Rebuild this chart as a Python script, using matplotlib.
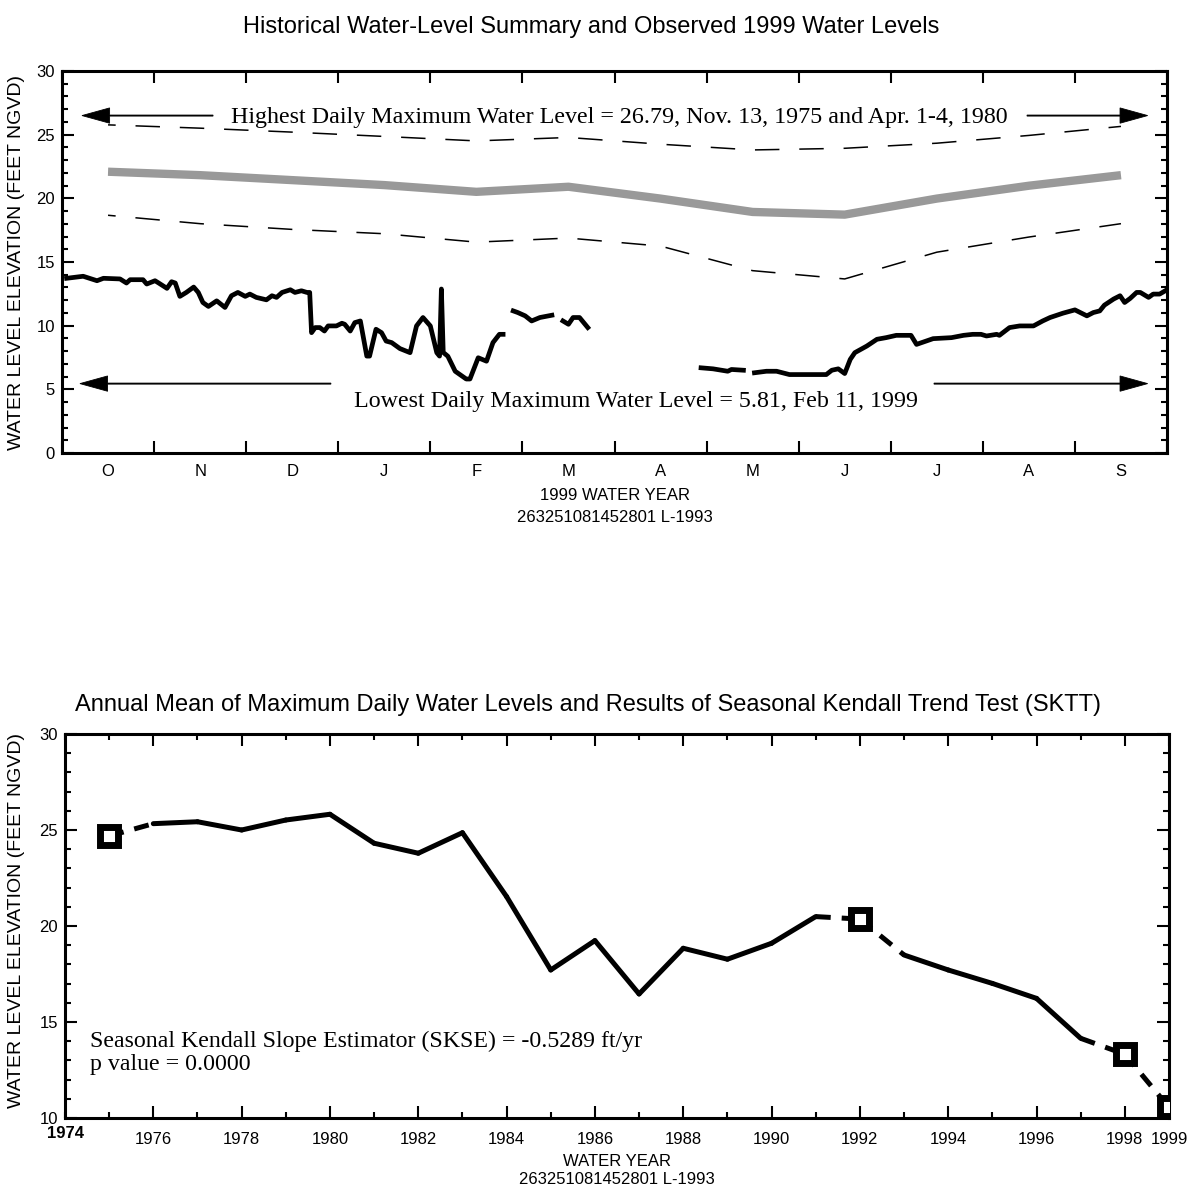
import numpy as np
import matplotlib
matplotlib.use("Agg")
import matplotlib.pyplot as plt
from matplotlib.ticker import MultipleLocator

W, H = 1192, 1191
SANS = "Liberation Sans"
SERIF = "Liberation Serif"
plt.rcParams['font.family'] = [SANS, 'DejaVu Sans']

# --- top chart: 1999 water year, x in months since Oct 1 ---
month_letters = ["O", "N", "D", "J", "F", "M", "A", "M", "J", "J", "A", "S"]
month_mid = np.arange(12) + 0.5
median_level = [22.09, 21.82, 21.43, 21.04, 20.51, 20.91, 19.98, 18.93, 18.72, 19.98, 20.99, 21.82]
upper_level = [25.77, 25.51, 25.20, 24.86, 24.51, 24.78, 24.25, 23.80, 23.93, 24.33, 24.94, 25.65]
lower_level = [18.67, 18.01, 17.56, 17.22, 16.56, 16.88, 16.25, 14.32, 13.67, 15.77, 16.96, 18.01]

# observed daily maximum, nan = missing record
day_month = [0.05, 0.23, 0.38, 0.45, 0.63, 0.70, 0.74, 0.88, 0.92, 1.01, 1.05, 1.14, 1.19, 1.23,
             1.28, 1.35, 1.43, 1.48, 1.53, 1.59, 1.68, 1.77, 1.84, 1.91, 1.99, 2.04, 2.11, 2.22,
             2.28, 2.33, 2.39, 2.48, 2.53, 2.60, 2.66, 2.69, 2.71, 2.75, 2.80, 2.85, 2.89, 2.98,
             3.04, 3.07, 3.13, 3.18, 3.24, 3.31, 3.34, 3.41, 3.47, 3.52, 3.58, 3.67, 3.78, 3.85,
             3.92, 4.00, 4.07, 4.10, 4.12, 4.14, 4.19, 4.27, 4.39, 4.43, 4.52, 4.61, 4.68, 4.75,
             4.79, 4.84,
             4.90, 4.95, 5.03, 5.10, 5.19, 5.32, 5.38,
             5.44, 5.50, 5.55, 5.62, 5.71, 6.3,
             6.94, 7.07, 7.23, 7.27, 7.40, 7.46,
             7.52, 7.65, 7.76, 7.90, 8.01, 8.30, 8.36, 8.43, 8.50, 8.56, 8.61, 8.74, 8.85, 8.95,
             9.06, 9.22, 9.28, 9.46, 9.66, 9.79, 9.89, 9.98, 10.04, 10.15, 10.18, 10.29, 10.40,
             10.55, 10.65, 10.73, 10.87, 11.00, 11.13, 11.20, 11.27, 11.32, 11.42, 11.49, 11.54,
             11.60, 11.67, 11.71, 11.80, 11.85, 11.92, 12.00]
day_level = [13.72, 13.88, 13.53, 13.72, 13.67, 13.35, 13.61, 13.61, 13.27, 13.53, 13.35, 12.93, 13.45, 13.35,
             12.30, 12.61, 13.03, 12.61, 11.82, 11.51, 11.95, 11.43, 12.35, 12.61, 12.30, 12.48, 12.22, 12.03,
             12.35, 12.22, 12.61, 12.82, 12.61, 12.74, 12.61, 12.61, 9.45, 9.85, 9.85, 9.58, 9.98, 9.98,
             10.19, 10.11, 9.58, 10.24, 10.37, 7.61, 7.61, 9.72, 9.45, 8.79, 8.67, 8.20, 7.88, 9.98,
             10.64, 9.98, 7.88, 7.61, 12.88, 7.90, 7.60, 6.42, 5.81, 5.81, 7.48, 7.21, 8.67, 9.32,
             9.32, np.nan,
             11.16, 11.03, 10.77, 10.37, 10.64, 10.82, np.nan,
             10.37, 10.11, 10.64, 10.64, 9.85, np.nan,
             6.69, 6.61, 6.42, 6.56, 6.50, np.nan,
             6.30, 6.42, 6.42, 6.16, 6.16, 6.16, 6.50, 6.61, 6.24, 7.35, 7.88, 8.40, 8.93, 9.06,
             9.24, 9.24, 8.53, 8.98, 9.06, 9.24, 9.32, 9.32, 9.19, 9.32, 9.24, 9.85, 9.98,
             9.98, 10.37, 10.64, 10.98, 11.24, 10.77, 11.03, 11.16, 11.61, 12.09, 12.35, 11.82,
             12.14, 12.61, 12.61, 12.22, 12.48, 12.48, 12.82]

highest_text = "Highest Daily Maximum Water Level = 26.79, Nov. 13, 1975 and Apr. 1-4, 1980"
lowest_text = "Lowest Daily Maximum Water Level = 5.81, Feb 11, 1999"
site_text = "263251081452801 L-1993"

# --- bottom chart: annual means ---
years = np.arange(1975, 2000)
annual_mean = [24.69, 25.33, 25.43, 25.00, 25.52, 25.82, 24.31, 23.79, 24.86, 21.53, 17.71, 19.24,
               16.46, 18.84, 18.27, 19.10, 20.49, 20.36, 18.49, 17.71, 17.01, 16.23, 14.15, 13.32, 10.55]
partial_years = [1975, 1992, 1998, 1999]
year_ticks = list(range(1976, 1999, 2)) + [1999]


def px_axes(fig, left, top, right, bottom):
    return fig.add_axes([left / W, 1 - bottom / H, (right - left) / W, (bottom - top) / H])


def style_axes(ax):
    for s in ax.spines.values():
        s.set_linewidth(2.2)
    ax.tick_params(which='both', direction='in', width=1.5, top=True, right=True, labelsize=12)
    ax.tick_params(which='major', length=8.5)
    ax.tick_params(which='minor', length=4.5)
    ax.tick_params(axis='y', pad=5)


fig = plt.figure(figsize=(W / 100, H / 100), dpi=100)

# top chart
ax1 = px_axes(fig, 62, 71, 1167, 453)
ax1.plot(month_mid, upper_level, color='k', lw=1.1, linestyle=(11, (16, 13)))
ax1.plot(month_mid, lower_level, color='k', lw=1.1, linestyle=(11, (16, 13)))
ax1.plot(month_mid, median_level, color='#999999', lw=6, solid_capstyle='butt')
ax1.plot(day_month, day_level, color='k', lw=3.4)
ax1.set_xlim(0, 12)
ax1.set_ylim(0, 30)
ax1.set_xticks(range(13))
ax1.set_xticklabels([])
ax1.set_xticks(month_mid, minor=True)
ax1.set_xticklabels(month_letters, minor=True)
ax1.set_yticks(range(0, 31, 5))
ax1.yaxis.set_minor_locator(MultipleLocator(1))
style_axes(ax1)
ax1.tick_params(axis='x', which='minor', length=0, pad=8)

arrow_kw = dict(width=0.08, head_width=1.2, head_length=0.30, length_includes_head=True,
                fc='k', ec='k', lw=0.6)
ax1.arrow(1.64, 26.5, 0.217 - 1.64, 0, **arrow_kw)
ax1.arrow(10.48, 26.5, 11.79 - 10.48, 0, **arrow_kw)
ax1.arrow(2.92, 5.45, 0.195 - 2.92, 0, **arrow_kw)
ax1.arrow(9.47, 5.45, 11.79 - 9.47, 0, **arrow_kw)
ax1.text(6.05, 25.92, highest_text, ha='center', va='baseline', family=SERIF, fontsize=17.3)
ax1.text(6.23, 3.64, lowest_text, ha='center', va='baseline', family=SERIF, fontsize=17.3)

fig.text(591 / W, 1 - 27 / H, "Historical Water-Level Summary and Observed 1999 Water Levels",
         ha='center', va='center', fontsize=17)
fig.text(615 / W, 1 - 496 / H, "1999 WATER YEAR", ha='center', va='center', fontsize=12)
fig.text(615 / W, 1 - 517 / H, site_text, ha='center', va='center', fontsize=12)
fig.text(17 / W, 1 - 262 / H, "WATER LEVEL ELEVATION (FEET NGVD)", rotation=90,
         ha='center', va='center', fontsize=14)

# bottom chart
ax2 = px_axes(fig, 65, 734, 1169, 1118)
partial = np.isin(years, partial_years)
for k in range(len(years) - 1):
    if partial[k] or partial[k + 1]:
        ax2.plot(years[k:k + 2], annual_mean[k:k + 2], color='k', lw=3.6,
                 linestyle=(0, (3, 2.2)), dash_capstyle='butt')
    else:
        ax2.plot(years[k:k + 2], annual_mean[k:k + 2], color='k', lw=3.6,
                 solid_capstyle='round')
ax2.plot(years[partial], np.array(annual_mean)[partial], 's', ms=13.5, mew=5,
         mfc='white', mec='k', zorder=3)
ax2.set_xlim(1974, 1999)
ax2.set_ylim(10, 30)
ax2.set_xticks(year_ticks)
ax2.set_xticklabels([str(y) for y in year_ticks])
ax2.xaxis.set_minor_locator(MultipleLocator(1))
ax2.set_yticks(range(10, 31, 5))
ax2.yaxis.set_minor_locator(MultipleLocator(1))
style_axes(ax2)
ax2.tick_params(axis='x', which='major', pad=10)
ax2.annotate("1974", xy=(1974, 10), xytext=(0, -11), textcoords='offset points',
             ha='center', va='center', fontsize=12, fontweight='bold', annotation_clip=False)
ax2.text(1974.57, 13.71, "Seasonal Kendall Slope Estimator (SKSE) = -0.5289 ft/yr",
         ha='left', va='baseline', family=SERIF, fontsize=17.2)
ax2.text(1974.57, 12.5, "p value = 0.0000", ha='left', va='baseline', family=SERIF, fontsize=17.2)

fig.text(588 / W, 1 - 705 / H,
         "Annual Mean of Maximum Daily Water Levels and Results of Seasonal Kendall Trend Test (SKTT)",
         ha='center', va='center', fontsize=17)
fig.text(617 / W, 1 - 1161 / H, "WATER YEAR", ha='center', va='center', fontsize=12)
fig.text(617 / W, 1 - 1180 / H, site_text, ha='center', va='center', fontsize=12)
fig.text(17 / W, 1 - 920 / H, "WATER LEVEL ELEVATION (FEET NGVD)", rotation=90,
         ha='center', va='center', fontsize=14)

fig.savefig("out.png", dpi=100)
